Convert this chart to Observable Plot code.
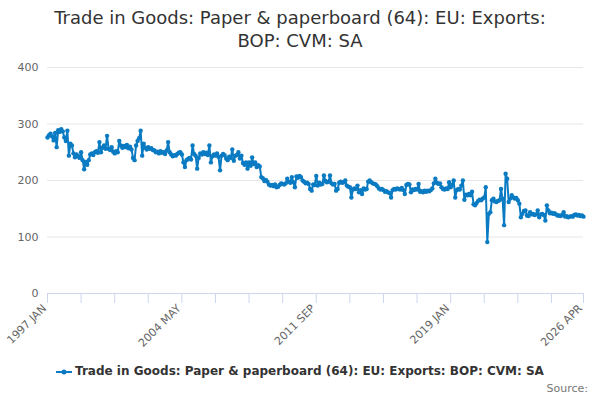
<!DOCTYPE html>
<html>
<head>
<meta charset="utf-8">
<script src="https://cdn.jsdelivr.net/npm/d3@7"></script>
<script src="https://cdn.jsdelivr.net/npm/@observablehq/plot@0.6"></script>
<style>
  html, body { margin: 0; padding: 0; background: #fff; }
  body { width: 600px; height: 400px; overflow: hidden; font-family: "DejaVu Sans", sans-serif; position: relative; }
  #title { height: 52px; box-sizing: border-box; padding-top: 6px; text-align: center; font-size: 18px; line-height: 23px; color: #333; }
  #chart svg { display: block; }
  #legend { position: absolute; left: 0; top: 364px; width: 600px; text-align: center; font-size: 12px; font-weight: bold; color: #333; white-space: nowrap; }
  #legend svg { vertical-align: middle; margin-right: 3px; }
  #source { position: absolute; right: 12px; top: 382px; font-size: 11px; color: #777; }
</style>
</head>
<body>
<div id="title">Trade in Goods: Paper &amp; paperboard (64): EU: Exports:<br>BOP: CVM: SA</div>
<div id="chart"></div>
<div id="legend"><svg width="16" height="10"><line x1="0" y1="5" x2="16" y2="5" stroke="#0a7bc2" stroke-width="2"/><circle cx="8" cy="5" r="2.5" fill="#0a7bc2"/></svg>Trade in Goods: Paper &amp; paperboard (64): EU: Exports: BOP: CVM: SA</div>
<div id="source">Source:</div>
<script>
const seriesName = "Trade in Goods: Paper & paperboard (64): EU: Exports: BOP: CVM: SA";
const monthNames = ["JAN","FEB","MAR","APR","MAY","JUN","JUL","AUG","SEP","OCT","NOV","DEC"];
const startYear = 1997;
const values = [
  // 1997
  276, 280, 283, 278, 271, 284, 259, 289, 286, 291, 287, 276,
  // 1998
  270, 288, 244, 265, 262, 248, 241, 246, 243, 240, 250, 236,
  // 1999
  220, 233, 228, 236, 246, 248, 245, 250, 252, 249, 268, 250,
  // 2000
  258, 262, 256, 279, 256, 254, 259, 251, 248, 252, 250, 270,
  // 2001
  262, 258, 261, 259, 263, 257, 260, 255, 240, 236, 262, 270,
  // 2002
  275, 288, 244, 265, 258, 255, 259, 256, 257, 254, 253, 250,
  // 2003
  251, 248, 252, 249, 250, 247, 253, 268, 250, 246, 243, 245,
  // 2004
  244, 247, 249, 250, 246, 232, 224, 236, 238, 240, 237, 262,
  // 2005
  247, 244, 221, 240, 248, 246, 250, 247, 249, 245, 262, 232,
  // 2006
  243, 246, 244, 248, 242, 218, 244, 247, 245, 239, 236, 242,
  // 2007
  240, 255, 235, 244, 245, 250, 239, 244, 231, 228, 232, 221,
  // 2008
  232, 226, 241, 229, 232, 224, 227, 225, 206, 204, 199, 201,
  // 2009
  198, 193, 191, 192, 190, 193, 188, 189, 192, 195, 194, 193,
  // 2010
  195, 203, 198, 196, 206, 197, 188, 207, 205, 208, 206, 200,
  // 2011
  198, 195, 196, 194, 185, 182, 193, 192, 208, 191, 196, 193,
  // 2012
  194, 209, 199, 197, 198, 209, 195, 193, 194, 182, 185, 196,
  // 2013
  198, 196, 197, 200, 191, 189, 188, 170, 184, 186, 185, 191,
  // 2014
  179, 183, 176, 186, 184, 185, 198, 200, 197, 195, 194, 193,
  // 2015
  190, 186, 184, 185, 183, 180, 181, 179, 178, 170, 183, 185,
  // 2016
  184, 186, 185, 184, 187, 183, 176, 192, 194, 193, 179, 184,
  // 2017
  183, 185, 184, 194, 180, 181, 179, 182, 180, 182, 181, 183,
  // 2018
  186, 195, 203, 196, 194, 195, 188, 185, 184, 186, 185, 197,
  // 2019
  188, 192, 200, 170, 183, 185, 184, 191, 200, 166, 175, 174,
  // 2020
  176, 174, 180, 158, 156, 160, 164, 166, 165, 168, 170, 188,
  // 2021
  91, 141, 144, 165, 168, 163, 162, 164, 165, 185, 168, 121,
  // 2022
  212, 203, 162, 168, 174, 170, 168, 169, 165, 159, 135, 141,
  // 2023
  146, 147, 138, 137, 144, 140, 141, 139, 140, 147, 135, 140,
  // 2024
  141, 139, 129, 156, 147, 142, 143, 141, 142, 140, 138, 138,
  // 2025
  137, 139, 144, 136, 137, 135, 136, 137, 136, 139, 140, 138,
  // 2026
  139, 137, 138, 136
];
const months = values.map((_, i) => `${startYear + Math.floor(i / 12)} ${monthNames[i % 12]}`);
const tickLabels = ["1997 JAN", "2004 MAY", "2011 SEP", "2019 JAN", "2026 APR"];
const tickMarks = months.filter((m, i) => i % 22 === 0).concat([months[months.length - 1]]);
const yTicks = [0, 100, 200, 300, 400];

const data = months.map((m, i) => ({month: m, value: values[i]}));
const color = "#0a7bc2";

const chart = Plot.plot({
  width: 600,
  height: 300,
  marginTop: 15,
  marginBottom: 59,
  marginLeft: 47,
  marginRight: 17,
  style: {fontFamily: "DejaVu Sans, sans-serif", fontSize: "11px", color: "#666", background: "#fff"},
  x: {type: "point", domain: months, padding: 0},
  y: {domain: [0, 400]},
  marks: [
    Plot.gridY(yTicks.filter(d => d > 0), {stroke: "#e6e6e6", strokeOpacity: 1}),
    Plot.axisY(yTicks, {tickSize: 0, tickPadding: 9, label: null, fill: "#666"}),
    Plot.ruleY([0], {stroke: "#ccd6eb", strokeWidth: 1}),
    Plot.axisX(tickMarks, {tickSize: 10, stroke: "#ccd6eb", tickFormat: () => "", label: null}),
    Plot.axisX(tickLabels, {tickSize: 0, tickPadding: 13, dx: -3, tickRotate: -45, label: null, fill: "#666"}),
    Plot.line(data, {x: "month", y: "value", stroke: color, strokeWidth: 2}),
    Plot.dot(data, {x: "month", y: "value", r: 2.2, fill: color, stroke: "none"})
  ]
});
document.getElementById("chart").appendChild(chart);
</script>
</body>
</html>
